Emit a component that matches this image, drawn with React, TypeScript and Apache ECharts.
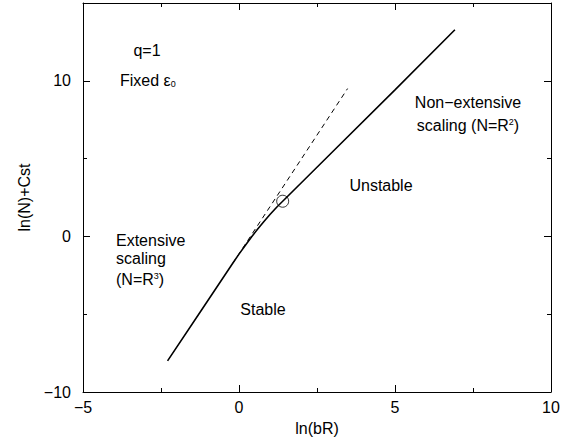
import React, { useEffect, useRef } from "react";
import * as echarts from "echarts";

const curveX = [-2.29, -1.2, -0.2, 0.0, 0.2, 0.4, 0.6, 0.8, 1.0, 1.2, 1.4, 3, 5, 6.92];
const curveY = [-8.0, -4.73, -1.73, -1.14, -0.58, -0.04, 0.47, 0.96, 1.42, 1.86, 2.26, 5.44, 9.42, 13.28];
const dashX = [-0.2, 3.48];
const dashY = [-1.73, 9.5];
const markerPoint = [1.4, 2.26];
const xTicks = { min: -5, max: 10, step: 5 };
const yTicks = { min: -10, max: 15, step: 10, minorStep: 5 };

const FONT = "'Liberation Sans', Arial, Helvetica, sans-serif";
const fmt = (v: number) => String(v).replace("-", "\u2212");

export default function App() {
  const ref = useRef<HTMLDivElement>(null);
  useEffect(() => {
    const chart = echarts.init(ref.current!, null, { renderer: "svg" });
    const grid = { left: 83, right: 19, top: 3, bottom: 52 };
    const lineStyle = { color: "#000", width: 1 };
    const baseX = {
      type: "value" as const,
      min: xTicks.min,
      max: xTicks.max,
      interval: xTicks.step,
      splitLine: { show: false },
      axisLine: { show: true, onZero: false, lineStyle },
      axisTick: { show: true, inside: true, length: 7, lineStyle },
      minorTick: { show: true, splitNumber: 2, length: 4, lineStyle },
    };
    const yMajor = {
      type: "value" as const,
      min: yTicks.min,
      max: yTicks.max,
      interval: yTicks.step,
      splitLine: { show: false },
      axisLine: { show: true, onZero: false, lineStyle },
      axisTick: { show: true, inside: true, length: 7, lineStyle },
    };
    const yMinor = {
      type: "value" as const,
      gridIndex: 1,
      min: yTicks.min,
      max: yTicks.max,
      interval: yTicks.minorStep,
      splitLine: { show: false },
      axisLine: { show: false, onZero: false },
      axisLabel: { show: false },
      axisTick: { show: true, inside: true, length: 4, lineStyle },
    };
    const txt = { fontFamily: FONT, fontSize: 16, fill: "#000" };
    chart.setOption({
      animation: false,
      grid: [grid, grid],
      xAxis: [
        {
          ...baseX,
          position: "bottom",
          name: "ln(bR)",
          nameLocation: "middle",
          nameGap: 28,
          nameTextStyle: { fontFamily: FONT, fontSize: 16, color: "#000" },
          axisLabel: { fontFamily: FONT, fontSize: 16, color: "#000", margin: 7, formatter: fmt },
        },
        { ...baseX, position: "top", axisLabel: { show: false } },
        {
          type: "value",
          gridIndex: 1,
          min: xTicks.min,
          max: xTicks.max,
          show: false,
          axisLine: { onZero: false },
        },
      ],
      yAxis: [
        {
          ...yMajor,
          position: "left",
          name: "ln(N)+Cst",
          nameLocation: "middle",
          nameGap: 51,
          nameTextStyle: { fontFamily: FONT, fontSize: 16, color: "#000" },
          axisLabel: {
            fontFamily: FONT,
            fontSize: 16,
            color: "#000",
            margin: 12,
            formatter: (v: number) => (v % 10 === 0 ? fmt(v) : ""),
          },
        },
        { ...yMajor, position: "right", axisLabel: { show: false } },
        { ...yMinor, position: "left" },
        { ...yMinor, position: "right" },
      ],
      series: [
        {
          type: "line",
          xAxisIndex: 0,
          yAxisIndex: 0,
          data: curveX.map((x, i) => [x, curveY[i]]),
          showSymbol: false,
          lineStyle: { color: "#000", width: 1.6 },
        },
        {
          type: "line",
          xAxisIndex: 0,
          yAxisIndex: 0,
          data: dashX.map((x, i) => [x, dashY[i]]),
          showSymbol: false,
          lineStyle: { color: "#000", width: 1, type: [5, 4] },
        },
        {
          type: "scatter",
          xAxisIndex: 0,
          yAxisIndex: 0,
          data: [markerPoint],
          symbol: "circle",
          symbolSize: 12,
          itemStyle: { color: "rgba(255,255,255,0)", borderColor: "#000", borderWidth: 1 },
          z: 5,
        },
      ],
      graphic: [
        { type: "text", x: 147, y: 50, style: { ...txt, text: "q=1", align: "center", verticalAlign: "middle" } },
        {
          type: "text",
          x: 120,
          y: 80,
          style: {
            ...txt,
            text: "{a|Fixed \u03b5}{s|0}",
            align: "left",
            verticalAlign: "middle",
            rich: {
              a: { fontFamily: FONT, fontSize: 16, color: "#000" },
              s: { fontFamily: FONT, fontSize: 9, color: "#000", verticalAlign: "bottom", padding: [7, 0, 0, 0] },
            },
          },
        },
        { type: "text", x: 116, y: 240, style: { ...txt, text: "Extensive", align: "left", verticalAlign: "middle" } },
        { type: "text", x: 116, y: 258, style: { ...txt, text: "scaling", align: "left", verticalAlign: "middle" } },
        {
          type: "text",
          x: 116,
          y: 279,
          style: {
            ...txt,
            text: "{a|(N=R}{s|3}{a|)}",
            align: "left",
            verticalAlign: "middle",
            rich: {
              a: { fontFamily: FONT, fontSize: 16, color: "#000" },
              s: { fontFamily: FONT, fontSize: 9, color: "#000", verticalAlign: "top", padding: [0, 0, 7, 0] },
            },
          },
        },
        { type: "text", x: 263, y: 309, style: { ...txt, text: "Stable", align: "center", verticalAlign: "middle" } },
        { type: "text", x: 381, y: 185, style: { ...txt, text: "Unstable", align: "center", verticalAlign: "middle" } },
        { type: "text", x: 468, y: 102, style: { ...txt, text: "Non\u2212extensive", align: "center", verticalAlign: "middle" } },
        {
          type: "text",
          x: 468,
          y: 125,
          style: {
            ...txt,
            text: "{a|scaling (N=R}{s|2}{a|)}",
            align: "center",
            verticalAlign: "middle",
            rich: {
              a: { fontFamily: FONT, fontSize: 16, color: "#000" },
              s: { fontFamily: FONT, fontSize: 9, color: "#000", verticalAlign: "top", padding: [0, 0, 7, 0] },
            },
          },
        },
      ],
    });
    return () => chart.dispose();
  }, []);
  return <div ref={ref} style={{ width: 570, height: 444, position: "absolute", left: 0, top: 0 }} />;
}
